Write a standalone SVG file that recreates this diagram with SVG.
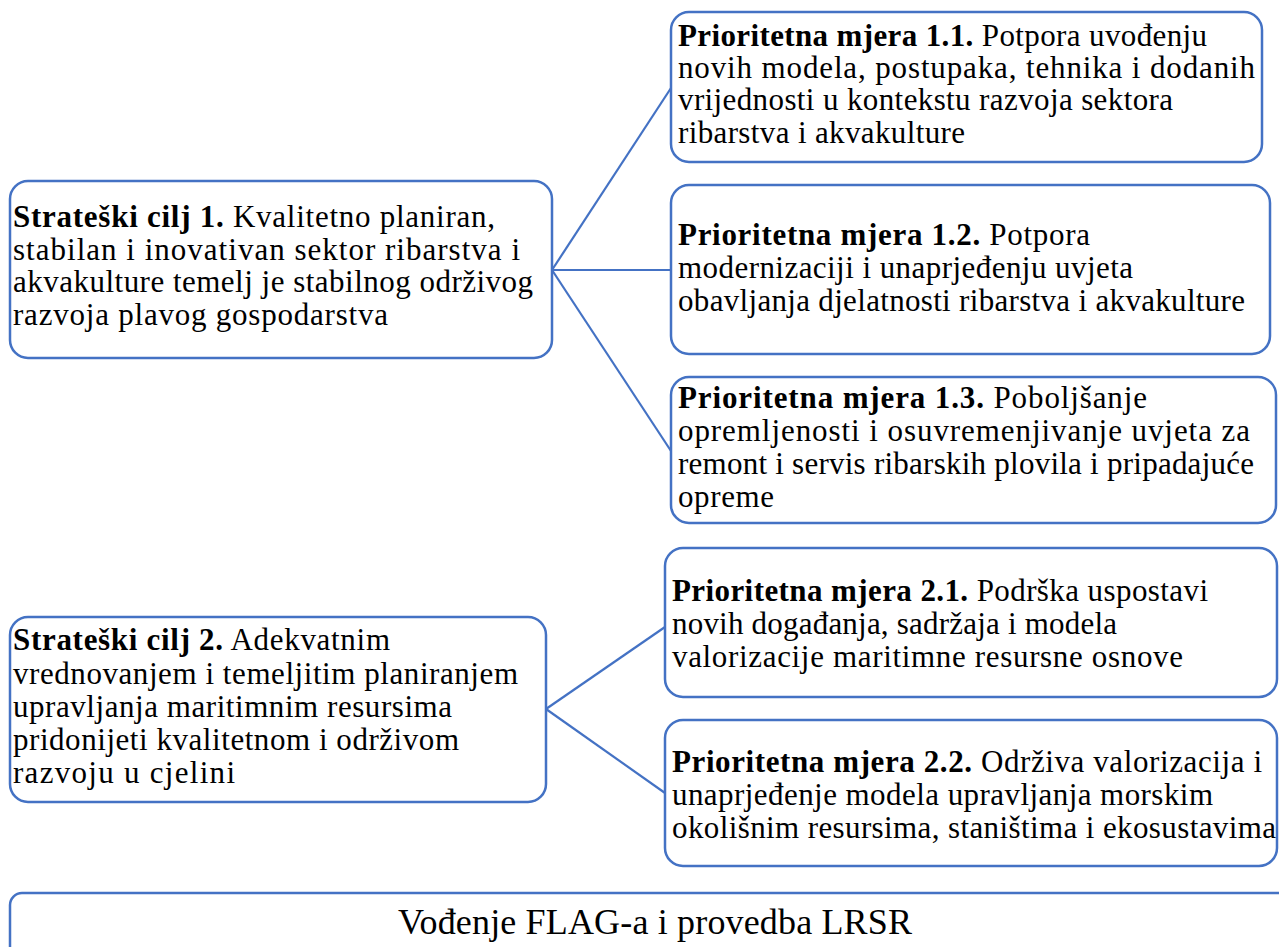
<svg xmlns="http://www.w3.org/2000/svg" width="1279" height="947" viewBox="0 0 1279 947">
<style>
.box{fill:#fff;stroke:#4472C4;stroke-width:2.5}
.conn{stroke:#4472C4;stroke-width:2.2;fill:none}
text{font-family:"Liberation Serif","Times New Roman",serif;font-size:31px;fill:#000}
.b{font-weight:bold}
.big{font-size:36px}
</style>
<rect width="1279" height="947" fill="#fff"/>
<g id="connectors">
<line class="conn" x1="552" y1="270" x2="671" y2="88"/>
<line class="conn" x1="552" y1="270" x2="671" y2="270"/>
<line class="conn" x1="552" y1="270" x2="671" y2="451"/>
<line class="conn" x1="546" y1="709" x2="665" y2="627"/>
<line class="conn" x1="546" y1="709" x2="665" y2="793"/>
</g>
<g id="s1">
<rect class="box" x="10" y="181" width="542" height="177" rx="18"/>
<text x="13" y="227" textLength="482"><tspan class="b">Strateški cilj 1.</tspan> Kvalitetno planiran,</text>
<text x="13" y="260" textLength="507">stabilan i inovativan sektor ribarstva i</text>
<text x="13" y="292" textLength="520">akvakulture temelj je stabilnog održivog</text>
<text x="13" y="325" textLength="375">razvoja plavog gospodarstva</text>
</g>
<g id="p11">
<rect class="box" x="671" y="12" width="591" height="150" rx="18"/>
<text x="678" y="46" textLength="529"><tspan class="b">Prioritetna mjera 1.1.</tspan> Potpora uvođenju</text>
<text x="678" y="78" textLength="577">novih modela, postupaka, tehnika i dodanih</text>
<text x="678" y="110" textLength="495">vrijednosti u kontekstu razvoja sektora</text>
<text x="678" y="143" textLength="287">ribarstva i akvakulture</text>
</g>
<g id="p12">
<rect class="box" x="671" y="185" width="599" height="169" rx="18"/>
<text x="678" y="245" textLength="412"><tspan class="b">Prioritetna mjera 1.2.</tspan> Potpora</text>
<text x="678" y="278" textLength="455">modernizaciji i unaprjeđenju uvjeta</text>
<text x="678" y="311" textLength="567">obavljanja djelatnosti ribarstva i akvakulture</text>
</g>
<g id="p13">
<rect class="box" x="671" y="377" width="605" height="146" rx="18"/>
<text x="678" y="408" textLength="469"><tspan class="b">Prioritetna mjera 1.3.</tspan> Poboljšanje</text>
<text x="678" y="441" textLength="572">opremljenosti i osuvremenjivanje uvjeta za</text>
<text x="678" y="474" textLength="576">remont i servis ribarskih plovila i pripadajuće</text>
<text x="678" y="507" textLength="96">opreme</text>
</g>
<g id="s2">
<rect class="box" x="10" y="617" width="536" height="185" rx="18"/>
<text x="13" y="650" textLength="377"><tspan class="b">Strateški cilj 2.</tspan> Adekvatnim</text>
<text x="13" y="684" textLength="505">vrednovanjem i temeljitim planiranjem</text>
<text x="13" y="717" textLength="439">upravljanja maritimnim resursima</text>
<text x="13" y="750" textLength="446">pridonijeti kvalitetnom i održivom</text>
<text x="13" y="783" textLength="222">razvoju u cjelini</text>
</g>
<g id="p21">
<rect class="box" x="665" y="548" width="612" height="149" rx="18"/>
<text x="672" y="601" textLength="536"><tspan class="b">Prioritetna mjera 2.1.</tspan> Podrška uspostavi</text>
<text x="672" y="634" textLength="445">novih događanja, sadržaja i modela</text>
<text x="672" y="667" textLength="511">valorizacije  maritimne resursne osnove</text>
</g>
<g id="p22">
<rect class="box" x="665" y="720" width="612" height="146" rx="18"/>
<text x="672" y="772" textLength="590"><tspan class="b">Prioritetna mjera 2.2.</tspan> Održiva valorizacija i</text>
<text x="672" y="805" textLength="541">unaprjeđenje modela upravljanja morskim</text>
<text x="672" y="838" textLength="604">okolišnim resursima, staništima i ekosustavima</text>
</g>
<g id="bottom">
<rect class="box" x="10" y="893" width="1290" height="80" rx="12"/>
<text class="big" x="398" y="934" textLength="514">Vođenje FLAG-a i provedba LRSR</text>
</g>
</svg>
